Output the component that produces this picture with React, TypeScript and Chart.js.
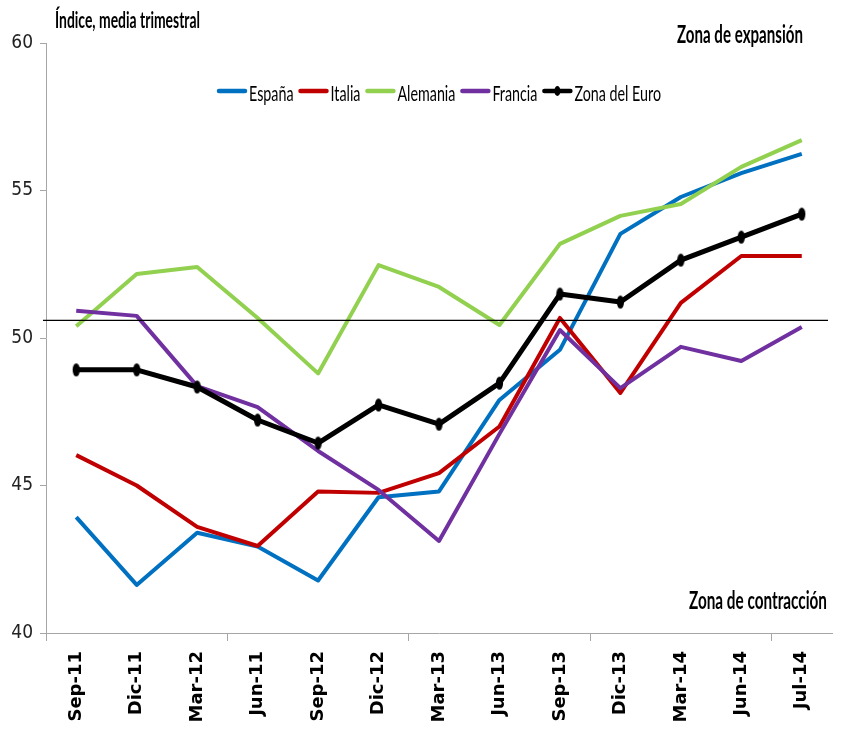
import React, { useEffect, useRef } from "react";
import { Chart, registerables } from "chart.js";

Chart.register(...registerables);

const CATEGORIES = ["Sep-11", "Dic-11", "Mar-12", "Jun-11", "Sep-12", "Dic-12", "Mar-13", "Jun-13", "Sep-13", "Dic-13", "Mar-14", "Jun-14", "Jul-14"];
const ESPANA = [43.93, 41.63, 43.4, 42.93, 41.78, 44.6, 44.8, 47.9, 49.6, 53.53, 54.78, 55.59, 56.24];
const ITALIA = [46.03, 45.0, 43.6, 42.95, 44.8, 44.75, 45.42, 47.0, 50.68, 48.14, 51.19, 52.78, 52.78];
const ALEMANIA = [50.4, 52.17, 52.41, 50.68, 48.8, 52.47, 51.73, 50.44, 53.19, 54.14, 54.54, 55.8, 56.71];
const FRANCIA = [50.92, 50.75, 48.37, 47.66, 46.17, 44.85, 43.12, 46.75, 50.27, 48.3, 49.7, 49.22, 50.37];
const ZONA_EURO = [48.92, 48.92, 48.34, 47.22, 46.44, 47.73, 47.08, 48.47, 51.49, 51.22, 52.64, 53.42, 54.2];
const SERIES_NAMES = ["España", "Italia", "Alemania", "Francia", "Zona del Euro"];
const Y_TICKS = [40, 45, 50, 55, 60];
const REFERENCE_LEVEL = 50.6;
const Y_TITLE = "Índice, media trimestral";
const ZONE_TOP = "Zona de expansión";
const ZONE_BOTTOM = "Zona de contracción";

const COLORS = ["#0070C0", "#C00000", "#92D050", "#7030A0", "#000000"];
const TEXT_FONT = "Lato, 'Liberation Sans', sans-serif";

function makeMarker(): HTMLCanvasElement {
  const c = document.createElement("canvas");
  c.width = 9;
  c.height = 15;
  const g = c.getContext("2d")!;
  g.fillStyle = "#000";
  g.beginPath();
  g.ellipse(4.5, 7.5, 3.6, 6.6, 0, 0, Math.PI * 2);
  g.fill();
  return c;
}

// draws text squeezed horizontally so that it spans `width` pixels starting at x
function drawFit(ctx: CanvasRenderingContext2D, text: string, x: number, y: number, width: number) {
  const w = ctx.measureText(text).width;
  const sx = width / w;
  ctx.save();
  ctx.translate(x, y);
  ctx.scale(sx, 1);
  ctx.textAlign = "left";
  ctx.fillText(text, 0, 0);
  ctx.restore();
}

const overlayPlugin = {
  id: "overlay",
  afterDatasetsDraw(chart: any) {
    const { ctx, chartArea, scales } = chart;
    const y = scales.y.getPixelForValue(REFERENCE_LEVEL);
    ctx.save();
    ctx.strokeStyle = "#000";
    ctx.lineWidth = 1.3;
    ctx.beginPath();
    ctx.moveTo(chartArea.left - 3, y);
    ctx.lineTo(chartArea.right - 4, y);
    ctx.stroke();
    ctx.restore();
  },
  afterDraw(chart: any) {
    const { ctx, chartArea } = chart;
    ctx.save();
    ctx.fillStyle = "#000";
    ctx.textBaseline = "alphabetic";
    ctx.font = `bold 23px ${TEXT_FONT}`;
    drawFit(ctx, Y_TITLE, chartArea.left + 9, 28, 145);
    ctx.font = `bold 24px ${TEXT_FONT}`;
    drawFit(ctx, ZONE_TOP, chartArea.right - 155, 43, 126);
    drawFit(ctx, ZONE_BOTTOM, chartArea.right - 143, 609, 138);

    // legend
    ctx.font = `21px ${TEXT_FONT}`;
    const sample = 30;
    const gap = 2;
    const spacing = 5;
    const raw = SERIES_NAMES.map((n) => ctx.measureText(n).width);
    const sx = 264 / raw.reduce((a, b) => a + b, 0);
    const textW = raw.map((w) => w * sx);
    const total = textW.reduce((a, b) => a + b, 0) + SERIES_NAMES.length * (sample + gap) + spacing * (SERIES_NAMES.length - 1);
    let x = (chartArea.left + chartArea.right) / 2 - total / 2;
    const ly = 91;
    SERIES_NAMES.forEach((name, i) => {
      ctx.strokeStyle = COLORS[i];
      ctx.lineWidth = 4.5;
      ctx.lineCap = "round";
      ctx.beginPath();
      ctx.moveTo(x + 2, ly);
      ctx.lineTo(x + sample - 2, ly);
      ctx.stroke();
      if (i === 4) {
        ctx.fillStyle = "#000";
        ctx.beginPath();
        ctx.ellipse(x + sample / 2, ly, 3, 5, 0, 0, Math.PI * 2);
        ctx.fill();
      }
      ctx.fillStyle = "#000";
      drawFit(ctx, name, x + sample + gap, 101, textW[i]);
      x += sample + gap + textW[i] + spacing;
    });
    ctx.restore();
  },
};

export default function App() {
  const ref = useRef<HTMLCanvasElement>(null);
  useEffect(() => {
    const marker = makeMarker();
    const seriesData = [ESPANA, ITALIA, ALEMANIA, FRANCIA, ZONA_EURO];
    const chart = new Chart(ref.current!, {
      type: "line",
      data: {
        labels: CATEGORIES,
        datasets: seriesData.map((d, i) => ({
          label: SERIES_NAMES[i],
          data: d,
          borderColor: COLORS[i],
          backgroundColor: COLORS[i],
          borderWidth: i === 4 ? 5 : 4,
          pointRadius: i === 4 ? 5 : 0,
          pointStyle: i === 4 ? (marker as any) : "circle",
          tension: 0,
          order: 5 - i,
          borderJoinStyle: "round" as const,
        })),
      },
      options: {
        responsive: false,
        animation: false,
        events: [],
        layout: { padding: { top: 43, right: 6, left: 0, bottom: 0 } },
        plugins: { legend: { display: false }, tooltip: { enabled: false } },
        scales: {
          x: {
            offset: true,
            grid: {
              offset: true,
              drawOnChartArea: false,
              tickLength: 8,
              color: (c: any) => (c.index % 3 === 0 ? "#a6a6a6" : "rgba(0,0,0,0)"),
            },
            border: { display: true, color: "#a6a6a6", width: 1 },
            ticks: {
              autoSkip: false,
              maxRotation: 90,
              minRotation: 90,
              padding: 10,
              color: "#000",
              font: { family: "'DejaVu Sans', sans-serif", size: 18, weight: "bold" },
            },
            afterFit: (s: any) => { s.height = 106; },
          },
          y: {
            min: 40,
            max: 60,
            afterBuildTicks: (s: any) => { s.ticks = Y_TICKS.map((v) => ({ value: v })); },
            grid: { drawOnChartArea: false, tickLength: 6, color: "#a6a6a6" },
            border: { display: true, color: "#a6a6a6", width: 1 },
            ticks: {
              padding: 7,
              color: "#222",
              font: { family: "'DejaVu Sans Condensed', 'DejaVu Sans', sans-serif", size: 19 },
            },
            afterFit: (s: any) => { s.width = 46; },
          },
        },
      },
      plugins: [overlayPlugin],
    });
    return () => chart.destroy();
  }, []);
  return (
    <div style={{ position: "absolute", left: 0, top: 0, width: 842, height: 739, background: "#fff" }}>
      <canvas ref={ref} width={842} height={739} style={{ display: "block" }} />
    </div>
  );
}
